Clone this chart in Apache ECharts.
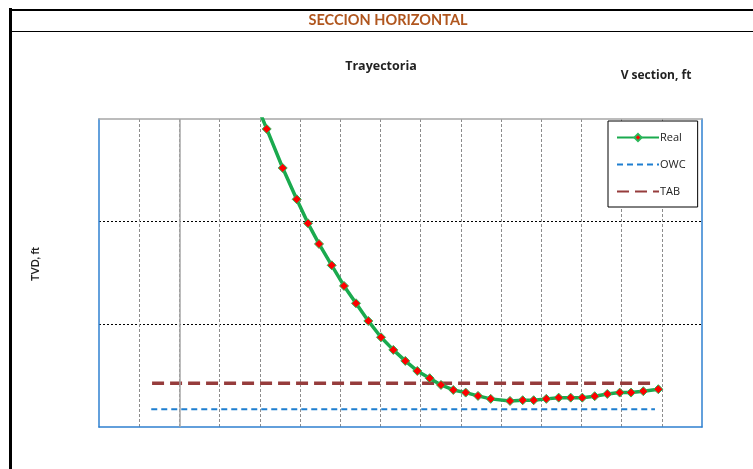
<!DOCTYPE html>
<html><head><meta charset="utf-8">
<script src="https://cdn.jsdelivr.net/npm/echarts@6/dist/echarts.min.js"></script>
<style>html,body{margin:0;padding:0;background:#fff}#c{width:753px;height:469px}</style>
</head><body><div id="c"></div>
<script>
const realX = [375.6,417.2,457.0,491.8,519.9,547.3,578.9,609.5,639.3,669.9,701.5,732.1,761.9,791.8,822.6,850.7,881.3,912.2,942.8,974.4,1022.4,1054.0,1081.3,1112.7,1143.5,1173.4,1202.2,1233.1,1264.4,1295.3,1323.4,1354.0,1391.3];
const realTVD = [7969.8,8009.7,8047.7,8078.2,8101.6,8121.7,8142.5,8162.6,8179.5,8196.7,8212.6,8224.9,8235.6,8245.4,8252.5,8259.0,8263.9,8266.5,8269.7,8272.6,8274.6,8273.9,8273.9,8272.6,8271.4,8271.4,8271.4,8270.0,8267.8,8266.5,8266.5,8265.1,8263.2];
const owcX = [130, 1383];
const owcTVD = [8282.7, 8282.7];
const tabX = [132, 1385];
const tabTVD = [8257.4, 8257.4];
const xMin = 0, xMax = 1500, xStep = 100;
const yMin = 8000, yMax = 8300, yStep = 100;

const zip = (a, b) => a.map((v, i) => [v, b[i]]);
const chart = echarts.init(document.getElementById('c'));
const hidden = {axisTick: {show: false}, axisLabel: {show: false}};
const noMark = {color: 'rgba(0,0,0,0)', borderWidth: 0, opacity: 0};
chart.setOption({
  animation: false,
  grid: {left: 99, right: 51, top: 119, bottom: 42},
  xAxis: [
    Object.assign({type: 'value', min: xMin, max: xMax, interval: xStep,
      axisLine: {show: true, onZero: false, lineStyle: {color: '#2f80d0', width: 1.5}},
      splitLine: {show: true, showMinLine: false, showMaxLine: false, lineStyle: {color: '#8c8c8c', type: [3, 2], width: 1}}}, hidden),
    Object.assign({type: 'value', position: 'top', min: xMin, max: xMax, interval: xStep,
      axisLine: {show: true, onZero: false, lineStyle: {color: '#a6a6a6', width: 1.5}},
      splitLine: {show: false}}, hidden)
  ],
  yAxis: [
    Object.assign({type: 'value', min: yMin, max: yMax, interval: yStep, inverse: true,
      axisLine: {show: true, onZero: false, lineStyle: {color: '#2f80d0', width: 1.5}},
      splitLine: {show: true, showMinLine: false, showMaxLine: false, lineStyle: {color: '#000', type: [2, 2], width: 1}}}, hidden),
    Object.assign({type: 'value', position: 'right', min: yMin, max: yMax, interval: yStep, inverse: true,
      axisLine: {show: true, onZero: false, lineStyle: {color: '#2f80d0', width: 1.5}},
      splitLine: {show: false}}, hidden)
  ],
  legend: {orient: 'vertical', left: 608, top: 121,
    backgroundColor: '#fff', borderColor: '#000', borderWidth: 1,
    padding: [11, 12, 10, 8], itemGap: 16, itemWidth: 42, itemHeight: 9,
    textStyle: {fontFamily: 'Open Sans', fontSize: 11, color: '#222', padding: [0, 0, 0, -4]},
    data: ['Real', {name: 'OWC', itemStyle: noMark}, {name: 'TAB', itemStyle: noMark}]},
  series: [
    {name: 'Real', type: 'line', data: zip(realX, realTVD), clip: true,
     symbol: 'diamond', symbolSize: 9,
     lineStyle: {color: '#1aaa4e', width: 3.5},
     itemStyle: {color: '#ff0000', borderColor: '#2bb85a', borderWidth: 1},
     z: 5,
     markLine: {silent: true, symbol: 'none', label: {show: false},
       lineStyle: {color: '#a6a6a6', type: 'solid', width: 1.5},
       data: [{xAxis: 200}]}},
    {name: 'OWC', type: 'line', data: zip(owcX, owcTVD), symbol: 'none',
     lineStyle: {color: '#1f7fd0', width: 2, type: [6, 4]}, itemStyle: {color: '#1f7fd0'}},
    {name: 'TAB', type: 'line', data: zip(tabX, tabTVD), symbol: 'none',
     lineStyle: {color: '#963c3c', width: 3.5, type: [12, 6]}, itemStyle: {color: '#963c3c'}}
  ],
  graphic: [
    {type: 'rect', shape: {x: 9, y: 8, width: 3, height: 461}, style: {fill: '#000'}},
    {type: 'line', shape: {x1: 9, y1: 10, x2: 753, y2: 10}, style: {stroke: '#000', lineWidth: 2}},
    {type: 'line', shape: {x1: 9, y1: 31.5, x2: 753, y2: 31.5}, style: {stroke: '#000', lineWidth: 1}},
    {type: 'text', x: 388, y: 20, style: {text: 'SECCION HORIZONTAL', fill: '#b0561e', font: 'bold 14.5px Lato', align: 'center', verticalAlign: 'middle'}},
    {type: 'text', x: 381, y: 66, style: {text: 'Trayectoria', fill: '#222', font: 'bold 12.5px "Open Sans"', align: 'center', verticalAlign: 'middle'}},
    {type: 'text', x: 656, y: 76, style: {text: 'V section, ft', fill: '#222', font: 'bold 12px "Open Sans"', align: 'center', verticalAlign: 'middle'}},
    {type: 'text', x: 36, y: 264, rotation: Math.PI / 2, style: {text: 'TVD, ft', fill: '#222', font: 'bold 10.5px Lato', align: 'center', verticalAlign: 'middle'}}
  ]
});
</script></body></html>
